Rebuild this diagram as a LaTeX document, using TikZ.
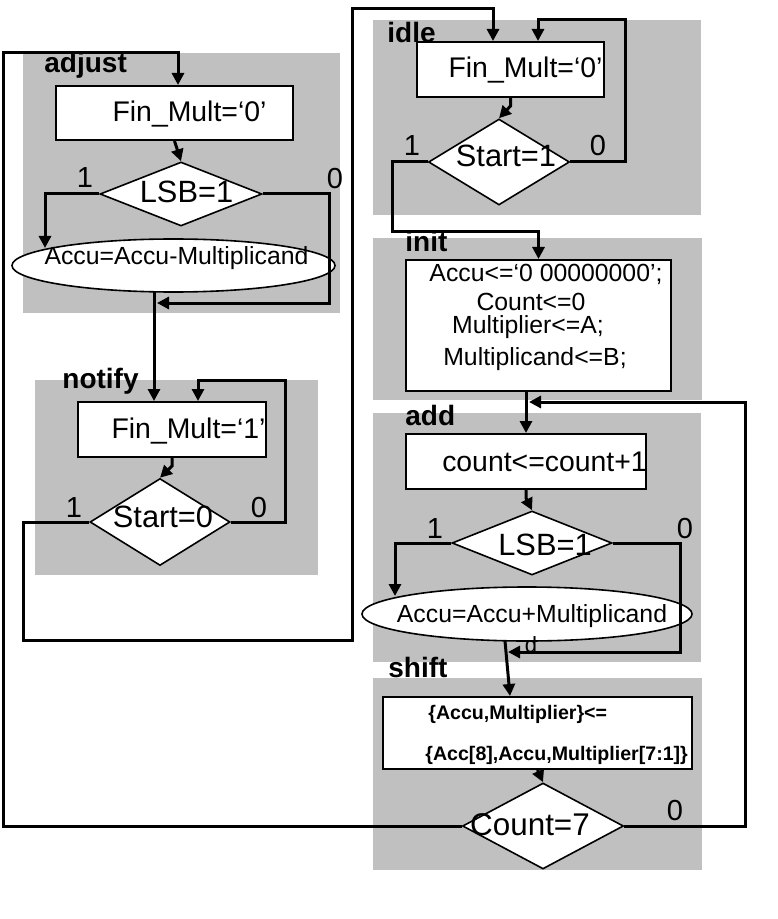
\documentclass[tikz,border=0pt]{standalone}
\usepackage{fontspec}
\setmainfont{Liberation Sans}
\usetikzlibrary{shapes.geometric,arrows.meta,calc}
\definecolor{panelgrey}{RGB}{192,192,192}
\begin{document}
\begin{tikzpicture}[x=0.5pt,y=-0.5pt,
  procbox/.style={draw, line width=1pt, fill=white, rectangle, inner sep=0pt},
  decis/.style={draw, line width=0.8pt, fill=white, diamond, inner sep=0pt},
  ovalnode/.style={draw, line width=0.8pt, fill=white, ellipse, inner sep=0pt},
  flow/.style={line width=1.5pt, -{Triangle[length=6pt,width=6pt]}},
  ttl/.style={anchor=base west, inner sep=0pt, font=\bfseries\fontsize{14}{16}\selectfont},
  mtxt/.style={anchor=base, inner sep=0pt, font=\fontsize{14.2}{16}\selectfont},
  dtxt/.style={anchor=base, inner sep=0pt, font=\fontsize{15.4}{18}\selectfont},
  etxt/.style={anchor=base, inner sep=0pt, font=\fontsize{12.4}{14}\selectfont},
  lbl/.style={anchor=base, inner sep=0pt, font=\fontsize{14.5}{17}\selectfont},
  stxt/.style={anchor=base west, inner sep=0pt, font=\bfseries\fontsize{9.8}{12}\selectfont}]
\useasboundingbox (0,0) rectangle (777,919);

% panels
\fill[panelgrey] (23,53) rectangle (340,313);
\fill[panelgrey] (35,380) rectangle (318,575);
\fill[panelgrey] (373,20) rectangle (701,215);
\fill[panelgrey] (373,238) rectangle (702,400);
\fill[panelgrey] (373,413) rectangle (701,662);
\fill[panelgrey] (373,678) rectangle (702,870);

% shapes
\node[procbox, minimum width=118.5pt, minimum height=27pt] (adjR) at (174.5,113) {};
\node[decis, minimum width=81pt, minimum height=32pt] (adjD) at (181,194) {};
\node[ovalnode, minimum width=161.5pt, minimum height=26.5pt] (adjE) at (173.5,265.5) {};
\node[procbox, minimum width=94pt, minimum height=27.5pt] (notR) at (172,429.5) {};
\node[decis, minimum width=70pt, minimum height=43.5pt] (notD) at (160,522) {};
\node[procbox, minimum width=93.5pt, minimum height=27.5pt] (idleR) at (510.5,69.5) {};
\node[decis, minimum width=70.5pt, minimum height=43pt] (idleD) at (499,162) {};
\node[procbox, minimum width=132.5pt, minimum height=65.5pt] (initR) at (538.5,325.5) {};
\node[procbox, minimum width=120pt, minimum height=27.5pt] (addR) at (526,461.5) {};
\node[decis, minimum width=80pt, minimum height=32pt] (addD) at (532,543) {};
\node[ovalnode, minimum width=165pt, minimum height=27pt] (addE) at (527,614) {};
\node[procbox, minimum width=154.5pt, minimum height=36pt] (shiftR) at (537.5,733) {};
\node[decis, minimum width=80.5pt, minimum height=43pt] (shiftD) at (543,826) {};

% helper coordinates
\coordinate (adjIn) at (45,248);
\coordinate (adjTip) at (157,303);
\coordinate (adjOut) at (154,292);
\coordinate (notLoop) at (285,380);
\coordinate (notLow) at (23,640);
\coordinate (midUp) at (352,9);
\coordinate (idleLoop) at (625,20);
\coordinate (idleLow) at (392,232);
\coordinate (addIn) at (395,596);
\coordinate (addRight) at (680,652);
\coordinate (addTip) at (508,652);
\coordinate (addOut) at (505,641);
\coordinate (backRight) at (745,402);
\coordinate (backTip) at (529,402);
\coordinate (leftTop) at (3,53);

% connectors: adjust
\draw[flow] (adjR.south) -- (adjD.north);
\draw[flow] (adjD.west) -| (adjIn);
\draw[flow] (adjD.east) -| (329,303) -- (adjTip);
\draw[flow] (adjOut) -- (adjOut |- notR.north);
% notify
\draw[flow] (notR.south) -- ++(0,8) -- (notD.north);
\draw[flow] (notD.east) -| (notLoop) -| ($(notR.north)+(26,0)$);
\draw[flow] (notD.west) -| (notLow) -| (midUp) -| ($(idleR.north)+(-17.5,0)$);
% idle
\draw[flow] (idleR.south) -- ++(0,8) -- (idleD.north);
\draw[flow] (idleD.east) -| (idleLoop) -| ($(idleR.north)+(27.5,0)$);
\draw[flow] (idleD.west) -| (idleLow) -| (initR.north);
% init
\draw[flow] (initR.south -| addR.north) -- (addR.north);
% add
\draw[flow] (addR.south) -- ++(0,8) -- (addD.north);
\draw[flow] (addD.west) -| (addIn);
\draw[flow] (addD.east) -| (addRight) -- (addTip);
\draw[flow] (addOut) -- ($(shiftR.north)+(-27.5,0)$);
% shift
\draw[flow] (shiftR.south) -- (shiftD.north);
\draw[flow] (shiftD.east) -| (backRight) -- (backTip);
\draw[flow] (shiftD.west) -| (leftTop) -| ($(adjR.north)+(3.5,0)$);

% titles
\node[ttl] (tAdj) at (44,73) {adjust};
\node[ttl] (tNot) at (62,388) {notify};
\node[ttl] (tIdle) at (387,43) {idle};
\node[ttl] (tInit) at (405,252) {init};
\node[ttl] (tAdd) at (405,425) {add};
\node[ttl] (tShift) at (388,677) {shift};

% texts
\node[mtxt] (xAdjR) at (189.5,122) {Fin\_Mult=‘0’};
\node[dtxt] (xAdjD) at (186.5,203) {LSB=1};
\node[etxt] (xAdjE) at (176.5,265) {Accu=Accu-Multiplicand};
\node[mtxt] (xNotR) at (188.5,438) {Fin\_Mult=‘1’};
\node[dtxt] (xNotD) at (163,527) {Start=0};
\node[mtxt] (xIdleR) at (525.5,78) {Fin\_Mult=‘0’};
\node[dtxt] (xIdleD) at (506,167) {Start=1};
\node[etxt] (xInit1) at (546,282) {Accu<=‘0 00000000’;};
\node[etxt] (xInit2) at (531,310) {Count<=0};
\node[etxt] (xInit3) at (528,333) {Multiplier<=A;};
\node[etxt] (xInit4) at (535,365) {Multiplicand<=B;};
\node[mtxt] (xAddR) at (544.5,471) {count<=count+1};
\node[dtxt] (xAddD) at (545,555) {LSB=1};
\node[etxt] (xAddE) at (532,622) {Accu=Accu+Multiplicand};
\node[stxt] (xSh1) at (428,719) {\{Accu,Multiplier\}<=};
\node[stxt] (xSh2) at (425,760) {\{Acc[8],Accu,Multiplier[7:1]\}};
\node[dtxt, font=\fontsize{15.7}{18}\selectfont] (xShD) at (530,835) {Count=7};

% branch labels
\node[lbl] (l1a) at (85,188) {1};
\node[lbl] (l0a) at (335,189) {0};
\node[lbl] (l1n) at (74,517) {1};
\node[lbl] (l0n) at (259,517) {0};
\node[lbl] (l1i) at (412,156) {1};
\node[lbl] (l0i) at (598,156) {0};
\node[lbl] (l1d) at (435,538) {1};
\node[lbl] (l0d) at (685,538) {0};
\node[lbl] (l0s) at (675,820) {0};
\node[lbl, font=\fontsize{11}{13}\selectfont] (ld) at (531,652) {d};
\end{tikzpicture}
\end{document}
